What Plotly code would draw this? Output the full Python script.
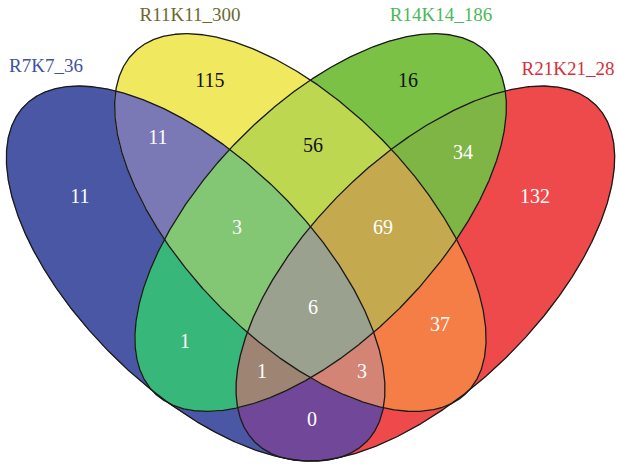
import numpy as np
import plotly.graph_objects as go
from itertools import combinations

# ---- data -------------------------------------------------------------
set_names = ["R7K7_36", "R11K11_300", "R14K14_186", "R21K21_28"]
set_keys = ["A", "B", "C", "D"]

region_keys = ["A", "B", "C", "D",
               "AB", "AC", "AD", "BC", "BD", "CD",
               "ABC", "ABD", "ACD", "BCD", "ABCD"]
region_counts = [11, 115, 16, 132,
                 11, 1, 0, 56, 37, 34,
                 3, 3, 1, 69, 6]

# ---- styling ----------------------------------------------------------
set_label_colors = ["#3f51a3", "#6a6a2e", "#4cb85a", "#d3303a"]
region_colors = {
    "A": "#4a57a5", "B": "#f0e95f", "C": "#7bc146", "D": "#ee4a4b",
    "AB": "#7b78b6", "AC": "#38b77b", "AD": "#71479a",
    "BC": "#bdd751", "BD": "#f47e45", "CD": "#7eb545",
    "ABC": "#83c775", "ABD": "#d38474", "ACD": "#9e8573", "BCD": "#c4a94f",
    "ABCD": "#9aa18f",
}
dark_text = {"B", "C", "BC"}

# ellipse layout in pixel space: centre x, centre y, semi-major, semi-minor, tilt (deg)
ellipse_geom = {
    "A": (195.65, 273.55, 239.7, 116.5, 44.56),
    "B": (300.35, 222.56, 238.0, 116.4, 45.78),
    "C": (320.65, 222.56, 238.0, 116.4, -45.78),
    "D": (425.35, 273.55, 239.7, 116.5, -44.56),
}

# anchor points for the count labels and the set titles
region_label_xy = {
    "A": (80, 198), "B": (210, 82), "C": (408, 82), "D": (535, 198),
    "AB": (158, 139), "BC": (313, 147), "CD": (463, 154),
    "ABC": (237, 229), "BCD": (383, 229), "ABCD": (313, 309),
    "AC": (185, 343), "BD": (440, 326),
    "ACD": (262, 373), "ABD": (362, 373), "AD": (312, 421),
}
set_label_xy = [(46, 67), (190, 16), (441, 16), (568, 70)]

W, H = 617, 465
N_PTS = 2400


def ellipse_points(cx, cy, a, b, deg, n=N_PTS):
    t = np.linspace(0, 2 * np.pi, n, endpoint=False)
    th = np.radians(deg)
    x = cx + a * np.cos(t) * np.cos(th) - b * np.sin(t) * np.sin(th)
    y = cy + a * np.cos(t) * np.sin(th) + b * np.sin(t) * np.cos(th)
    return x, y


def ellipse_f(geom, x, y):
    cx, cy, a, b, deg = geom
    th = np.radians(deg)
    dx, dy = x - cx, y - cy
    u = dx * np.cos(th) + dy * np.sin(th)
    v = -dx * np.sin(th) + dy * np.cos(th)
    return (u / a) ** 2 + (v / b) ** 2 - 1.0


def intersection_outline(keys):
    # the intersection of ellipses is convex: gather every boundary sample that
    # lies inside all the other ellipses and order the points by angle
    xs, ys = [], []
    for k in keys:
        x, y = ellipse_points(*ellipse_geom[k])
        mask = np.ones_like(x, dtype=bool)
        for o in keys:
            if o != k:
                mask &= ellipse_f(ellipse_geom[o], x, y) <= 1e-9
        xs.append(x[mask])
        ys.append(y[mask])
    x = np.concatenate(xs)
    y = np.concatenate(ys)
    if len(x) < 3:
        return None, None
    mx, my = x.mean(), y.mean()
    order = np.argsort(np.arctan2(y - my, x - mx))
    x, y = x[order], y[order]
    return np.append(x, x[0]), np.append(y, y[0])


fig = go.Figure()

# paint intersections from fewest to most sets; each deeper intersection
# overwrites the shallower ones, leaving every exclusive region its colour
for k in range(1, 5):
    for combo in combinations(set_keys, k):
        key = "".join(combo)
        xs, ys = intersection_outline(combo)
        if xs is None:
            continue
        fig.add_trace(go.Scatter(
            x=xs, y=ys, mode="lines", fill="toself",
            fillcolor=region_colors[key],
            line=dict(width=0.6, color=region_colors[key]),
            hoverinfo="skip", showlegend=False,
        ))

# ellipse outlines
for key in set_keys:
    x, y = ellipse_points(*ellipse_geom[key])
    fig.add_trace(go.Scatter(
        x=np.append(x, x[0]), y=np.append(y, y[0]), mode="lines",
        line=dict(width=1.3, color="#1a1a1a"),
        hoverinfo="skip", showlegend=False,
    ))

# region counts
for key, cnt in zip(region_keys, region_counts):
    x, y = region_label_xy[key]
    fig.add_trace(go.Scatter(
        x=[x], y=[y], mode="text", text=[str(cnt)],
        textposition="middle center",
        textfont=dict(family="Liberation Serif", size=20,
                      color="#111111" if key in dark_text else "#ffffff"),
        hoverinfo="skip", showlegend=False,
    ))

# set titles
for name, col, (x, y) in zip(set_names, set_label_colors, set_label_xy):
    fig.add_trace(go.Scatter(
        x=[x], y=[y], mode="text", text=[name],
        textposition="middle center",
        textfont=dict(family="Liberation Serif", size=19, color=col),
        hoverinfo="skip", showlegend=False,
    ))

fig.update_layout(
    width=W, height=H,
    margin=dict(l=0, r=0, t=0, b=0),
    paper_bgcolor="white", plot_bgcolor="white",
    xaxis=dict(range=[0, W], visible=False, fixedrange=True),
    yaxis=dict(range=[H, 0], visible=False, fixedrange=True),
)

fig.write_html("out.html")
